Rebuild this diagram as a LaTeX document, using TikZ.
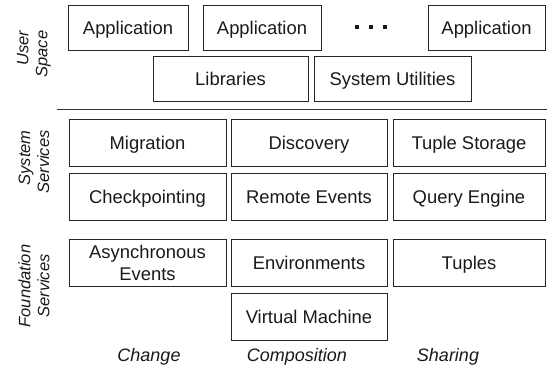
\documentclass[tikz,border=0pt]{standalone}
\usepackage{fontspec}
\setmainfont{Liberation Sans}
\begin{document}
\begin{tikzpicture}[x=1pt,y=-1pt,
  box/.style={draw=black!85, line width=0.9pt, inner sep=0pt, text=black!90,
    font=\fontsize{18.4}{22}\selectfont, align=center},
  one/.style={text height=13.2pt, text depth=0pt},
  top/.style={box, one, minimum height=45pt},
  mid/.style={box, one, minimum height=47pt},
  midtwo/.style={box, minimum height=47pt},
  side/.style={rotate=90, inner sep=0pt, text=black!90,
    font=\fontsize{16.5}{19}\selectfont\itshape},
  axis/.style={inner sep=0pt, text=black!90, text height=13pt, text depth=0pt,
    font=\fontsize{18}{22}\selectfont\itshape}]
\useasboundingbox (0,0) rectangle (547,373);
% user space
\node[top, minimum width=120pt] (app1) at (128,27.5) {Application};
\node[top, minimum width=118pt] (app2) at (262,27.5) {Application};
\node[inner sep=0pt, text=black!90] (dots) at (371,27) {\rule{4pt}{4pt}\hspace{10pt}\rule{4pt}{4pt}\hspace{10pt}\rule{4pt}{4pt}};
\node[top, minimum width=117pt] (app3) at (486.5,27.5) {Application};
\node[top, minimum width=155pt] (lib) at (230.5,78.5) {Libraries};
\node[top, minimum width=157pt] (sysu) at (392.5,78.5) {System Utilities};
% separator
\coordinate (sepL) at (57,109);
\coordinate (sepR) at (547,109);
\draw[black!80, line width=0.9pt] (sepL) -- (sepR);
% system services
\node[mid, minimum width=157pt] (mig) at (147.5,142.5) {Migration};
\node[mid, minimum width=156pt] (disc) at (309,142.5) {Discovery};
\node[mid, minimum width=152pt] (ts) at (469,142.5) {Tuple Storage};
\node[mid, minimum width=157pt] (chk) at (147.5,196.5) {Checkpointing};
\node[mid, minimum width=156pt] (rev) at (309,196.5) {Remote Events};
\node[mid, minimum width=152pt] (qe) at (469,196.5) {Query Engine};
% foundation services
\node[midtwo, minimum width=157pt] (async) at (147.5,262.5) {Asynchronous\\Events};
\node[mid, minimum width=156pt] (env) at (309,262.5) {Environments};
\node[mid, minimum width=152pt] (tup) at (469,262.5) {Tuples};
\node[mid, minimum width=156pt] (vm) at (309,316.5) {Virtual Machine};
% side labels
\node[side, align=right] (lu) at (34,54) {User\\Space};
\node[side, align=right] (ls) at (34,162) {System\\Services};
\node[side, align=center] (lf) at (34,286) {Foundation\\Services};
% axis labels
\node[axis] (chg) at (149,355) {Change};
\node[axis] (comp) at (297,355) {Composition};
\node[axis] (shr) at (448,355) {Sharing};
\end{tikzpicture}
\end{document}
